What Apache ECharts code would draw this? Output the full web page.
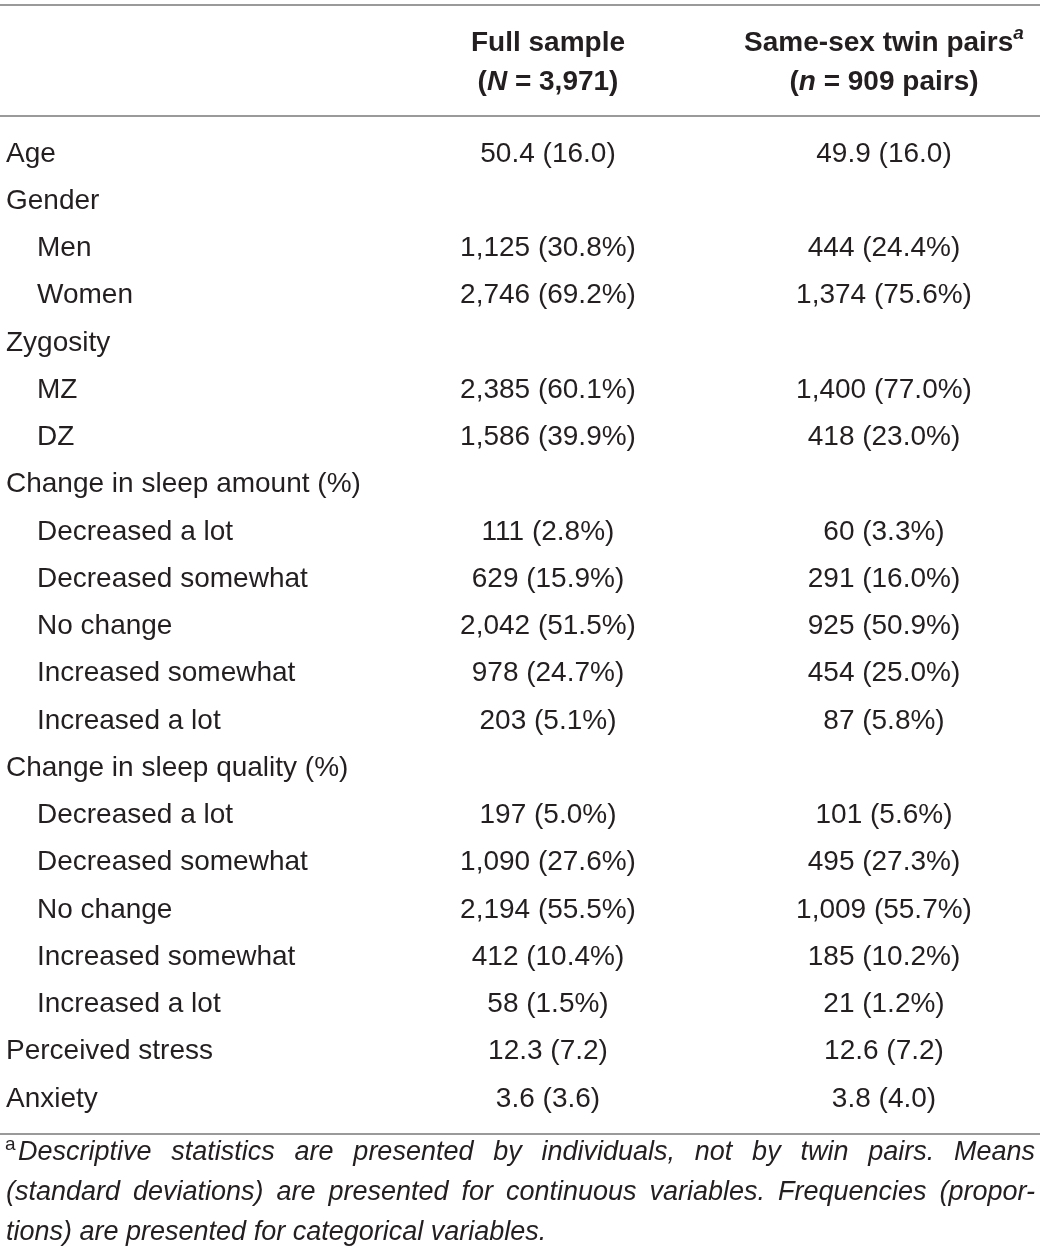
<!DOCTYPE html>
<html>
<head>
<meta charset="utf-8">
<script src="https://cdn.jsdelivr.net/npm/echarts@6/dist/echarts.min.js"></script>
<style>
  html, body { margin: 0; padding: 0; background: #fff; }
  #table { width: 1040px; height: 1258px; }
</style>
</head>
<body>
<div id="table"></div>
<script>
// row labels of the table, top to bottom
var rowLabels = ['Age', 'Gender', 'Men', 'Women', 'Zygosity', 'MZ', 'DZ',
  'Change in sleep amount (%)', 'Decreased a lot', 'Decreased somewhat', 'No change',
  'Increased somewhat', 'Increased a lot',
  'Change in sleep quality (%)', 'Decreased a lot', 'Decreased somewhat', 'No change',
  'Increased somewhat', 'Increased a lot',
  'Perceived stress', 'Anxiety'];
// 1 = sub row (indented)
var rowIndent = [0, 0, 1, 1, 0, 1, 1, 0, 1, 1, 1, 1, 1, 0, 1, 1, 1, 1, 1, 0, 0];
// mean = mean (sd), count = n (%), '' = group heading
var rowKind = ['mean', '', 'count', 'count', '', 'count', 'count',
  '', 'count', 'count', 'count', 'count', 'count',
  '', 'count', 'count', 'count', 'count', 'count',
  'mean', 'mean'];

// Full sample
var fullValue = [50.4, null, 1125, 2746, null, 2385, 1586,
  null, 111, 629, 2042, 978, 203,
  null, 197, 1090, 2194, 412, 58,
  12.3, 3.6];
var fullSpread = [16.0, null, 30.8, 69.2, null, 60.1, 39.9,
  null, 2.8, 15.9, 51.5, 24.7, 5.1,
  null, 5.0, 27.6, 55.5, 10.4, 1.5,
  7.2, 3.6];

// Same-sex twin pairs
var twinValue = [49.9, null, 444, 1374, null, 1400, 418,
  null, 60, 291, 925, 454, 87,
  null, 101, 495, 1009, 185, 21,
  12.6, 3.8];
var twinSpread = [16.0, null, 24.4, 75.6, null, 77.0, 23.0,
  null, 3.3, 16.0, 50.9, 25.0, 5.8,
  null, 5.6, 27.3, 55.7, 10.2, 1.2,
  7.2, 4.0];

// column headings
var columnTitles = ['Full sample', 'Same-sex twin pairs'];
var columnNote = ['', 'a'];
var sizeSymbol = ['N', 'n'];
var sizeText = ['3,971', '909 pairs'];

var footnoteMark = 'a';
var footnoteLines = [
  'Descriptive statistics are presented by individuals, not by twin pairs. Means',
  '(standard deviations) are presented for continuous variables. Frequencies (propor-',
  'tions) are presented for categorical variables.'
];

var INK = '#231f20';
var RULE = '#9a9a9a';
var FONT = '"Liberation Sans", Arial, Helvetica, sans-serif';

function cellText(kind, v, s) {
  if (v == null) return '';
  if (kind == 'mean') return v.toFixed(1) + ' (' + s.toFixed(1) + ')';
  return v.toLocaleString('en-US') + ' (' + s.toFixed(1) + '%)';
}

var cells = [];
for (var i = 0; i < rowLabels.length; i++) {
  if (fullValue[i] != null) cells.push([0, i, cellText(rowKind[i], fullValue[i], fullSpread[i])]);
  if (twinValue[i] != null) cells.push([1, i, cellText(rowKind[i], twinValue[i], twinSpread[i])]);
}

// footnote: justified italic lines, words placed from measured widths
var footSize = 27;
var footFont = 'italic ' + footSize + 'px ' + FONT;
var ctx = document.createElement('canvas').getContext('2d');
ctx.font = footFont;
var graphics = [
  { type: 'line', shape: { x1: 0, y1: 5, x2: 1040, y2: 5 }, style: { stroke: RULE, lineWidth: 2 } },
  { type: 'line', shape: { x1: 0, y1: 116, x2: 1040, y2: 116 }, style: { stroke: RULE, lineWidth: 2 } },
  { type: 'line', shape: { x1: 0, y1: 1134, x2: 1040, y2: 1134 }, style: { stroke: RULE, lineWidth: 2 } },
  { type: 'text', x: 5, y: 1145, style: { text: footnoteMark, font: '19px ' + FONT, fill: INK, verticalAlign: 'middle' } }
];
var footTop = 1152, footGap = 40, footLeft = 6, footRight = 1035;
footnoteLines.forEach(function (line, k) {
  var words = line.split(' ');
  var x0 = k == 0 ? footLeft + 12 : footLeft;
  var y = footTop + k * footGap;
  var widths = words.map(function (w) { return ctx.measureText(w).width; });
  var total = widths.reduce(function (a, b) { return a + b; }, 0);
  var space = ctx.measureText(' ').width;
  var gap = space;
  if (k < footnoteLines.length - 1) gap = Math.max(space * 0.6, (footRight - x0 - total) / (words.length - 1));
  var x = x0;
  words.forEach(function (w, j) {
    graphics.push({ type: 'text', x: x, y: y,
      style: { text: w, font: footFont, fill: INK, verticalAlign: 'middle' } });
    x += widths[j] + gap;
  });
});

var chart = echarts.init(document.getElementById('table'));
var option = {
  backgroundColor: '#fff',
  animation: false,
  textStyle: { fontFamily: FONT },
  grid: { left: 548, right: 156, top: 154, bottom: 159 },
  xAxis: {
    type: 'category',
    position: 'top',
    boundaryGap: false,
    data: ['0', '1'],
    axisLine: { show: false },
    axisTick: { show: false },
    splitLine: { show: false },
    axisLabel: {
      interval: 0,
      margin: 52,
      color: INK,
      formatter: function (val) {
        var c = +val;
        var top = '{b|' + columnTitles[c] + '}' + (columnNote[c] ? '{sup|' + columnNote[c] + '}' : '');
        return top + '\n{b|(}{bi|' + sizeSymbol[c] + '}{b| = ' + sizeText[c] + ')}';
      },
      rich: {
        b: { fontFamily: FONT, fontSize: 28, fontWeight: 'bold', color: INK, lineHeight: 39 },
        bi: { fontFamily: FONT, fontSize: 28, fontWeight: 'bold', fontStyle: 'italic', color: INK, lineHeight: 39 },
        sup: { fontFamily: FONT, fontSize: 19, fontWeight: 'bold', fontStyle: 'italic', color: INK, lineHeight: 19, verticalAlign: 'top' }
      }
    }
  },
  yAxis: {
    type: 'category',
    inverse: true,
    boundaryGap: false,
    data: rowLabels.map(function (d, i) { return String(i); }),
    axisLine: { show: false },
    axisTick: { show: false },
    splitLine: { show: false },
    axisLabel: {
      interval: 0,
      align: 'left',
      margin: 542,
      formatter: function (val) {
        var i = +val;
        return (rowIndent[i] ? '{ind|' : '{top|') + rowLabels[i] + '}';
      },
      rich: {
        top: { fontFamily: FONT, fontSize: 28, color: INK },
        ind: { fontFamily: FONT, fontSize: 28, color: INK, padding: [0, 0, 0, 31] }
      }
    }
  },
  series: [{
    type: 'scatter',
    data: cells,
    symbolSize: 0,
    silent: true,
    itemStyle: { color: INK, opacity: 1 },
    label: {
      show: true,
      position: 'inside',
      align: 'center',
      verticalAlign: 'middle',
      fontFamily: FONT,
      fontSize: 28,
      color: INK,
      opacity: 1,
      textBorderWidth: 0,
      formatter: function (p) { return p.value[2]; }
    }
  }],
  graphic: graphics
};
chart.setOption(option);
</script>
</body>
</html>
